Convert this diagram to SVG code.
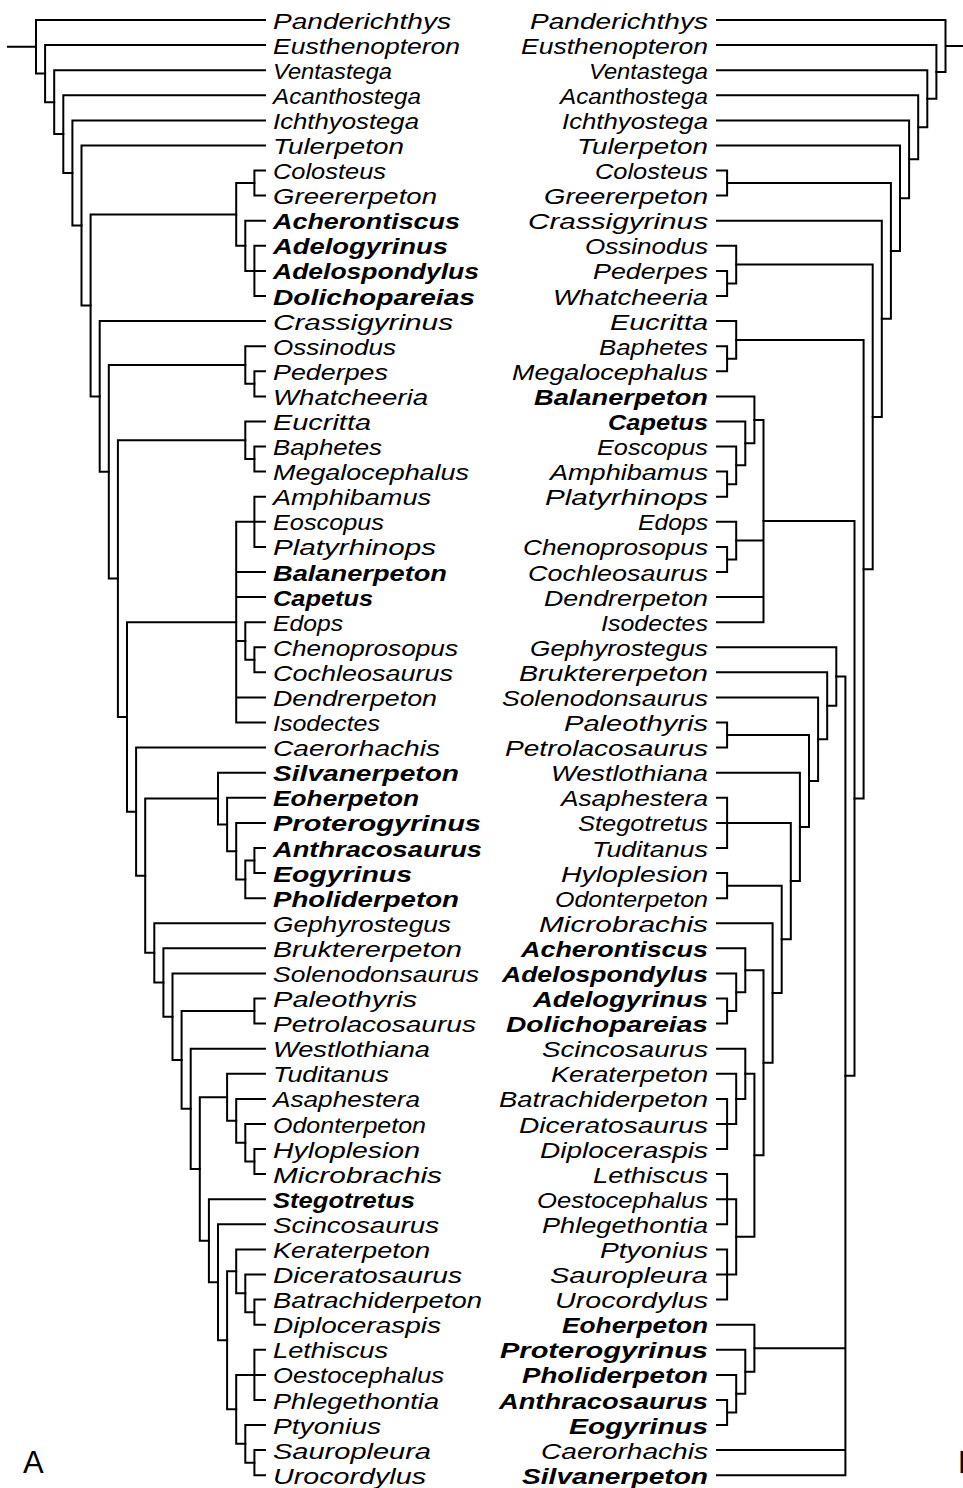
<svg xmlns="http://www.w3.org/2000/svg" width="963" height="1488" viewBox="0 0 963 1488">
<style>
.e{fill:none;stroke:#000;stroke-width:2;stroke-linecap:square}
text{font-family:"Liberation Sans",Arial,sans-serif;font-size:22px;font-style:italic;fill:#000}
.b{font-weight:bold}
.p{font-style:normal;font-size:31px}
</style>
<rect width="963" height="1488" fill="#fff"/>
<g id="connectors">
<g id="tree-a">
<path class="e" d="M8,46.8H36M36,20V73.6M36,20H265M36,73.6H45.1"/>
<path class="e" d="M45.1,45.1V102.15M45.1,45.1H265M45.1,102.15H54.2"/>
<path class="e" d="M54.2,70.2V134.1M54.2,70.2H265M54.2,134.1H63.3"/>
<path class="e" d="M63.3,95.3V172.9M63.3,95.3H265M63.3,172.9H72.4"/>
<path class="e" d="M72.4,120.4V225.45M72.4,120.4H265M72.4,225.45H81.5"/>
<path class="e" d="M81.5,145.5V305.4M81.5,145.5H265M81.5,305.4H90.6"/>
<path class="e" d="M90.6,214.4V396.45M90.6,214.4H236.2M90.6,396.45H99.7"/>
<path class="e" d="M236.2,183.05V245.8M236.2,183.05H254.4M236.2,245.8H245.3"/>
<path class="e" d="M254.4,170.5V195.6M254.4,170.5H265M254.4,195.6H265"/>
<path class="e" d="M245.3,220.7V270.9M245.3,220.7H265M245.3,270.9H265"/>
<path class="e" d="M254.4,245.8V296M254.4,245.8H265M254.4,296H265"/>
<path class="e" d="M99.7,321.1V471.8M99.7,321.1H265M99.7,471.8H108.8"/>
<path class="e" d="M108.8,365V578.55M108.8,365H245.3M108.8,578.55H117.9"/>
<path class="e" d="M245.3,346.2V383.85M245.3,346.2H265M245.3,383.85H254.4"/>
<path class="e" d="M254.4,371.3V396.4M254.4,371.3H265M254.4,396.4H265"/>
<path class="e" d="M117.9,440.2V716.9M117.9,440.2H245.3M117.9,716.9H127"/>
<path class="e" d="M245.3,421.4V459.05M245.3,421.4H265M245.3,459.05H254.4"/>
<path class="e" d="M254.4,446.5V471.6M254.4,446.5H265M254.4,471.6H265"/>
<path class="e" d="M127,622.15V811.65M127,622.15H236.2M127,811.65H136.1"/>
<path class="e" d="M236.2,521.8V722.5M236.2,521.8H265M236.2,572H265M236.2,597.1H265M236.2,641H245.3M236.2,697.4H265M236.2,722.5H265"/>
<path class="e" d="M254.4,496.7V546.9M254.4,496.7H265M254.4,546.9H265"/>
<path class="e" d="M245.3,622.2V659.8M245.3,622.2H265M245.3,659.8H254.4"/>
<path class="e" d="M254.4,647.3V672.3M254.4,647.3H265M254.4,672.3H265"/>
<path class="e" d="M136.1,747.6V875.7M136.1,747.6H265M136.1,875.7H145.2"/>
<path class="e" d="M145.2,798.6V952.85M145.2,798.6H218M145.2,952.85H154.3"/>
<path class="e" d="M218,772.7V824.5M218,772.7H265M218,824.5H227.1"/>
<path class="e" d="M227.1,797.8V851.15M227.1,797.8H265M227.1,851.15H236.2"/>
<path class="e" d="M236.2,822.9V879.4M236.2,822.9H265M236.2,879.4H245.3"/>
<path class="e" d="M245.3,860.55V898.2M245.3,860.55H254.4M245.3,898.2H265"/>
<path class="e" d="M254.4,848V873.1M254.4,848H265M254.4,873.1H265"/>
<path class="e" d="M154.3,923.2V982.5M154.3,923.2H265M154.3,982.5H163.4"/>
<path class="e" d="M163.4,948.3V1016.7M163.4,948.3H265M163.4,1016.7H172.5"/>
<path class="e" d="M172.5,973.4V1059.95M172.5,973.4H265M172.5,1059.95H181.6"/>
<path class="e" d="M181.6,1011.05V1108.85M181.6,1011.05H254.4M181.6,1108.85H190.7"/>
<path class="e" d="M254.4,998.5V1023.6M254.4,998.5H265M254.4,1023.6H265"/>
<path class="e" d="M190.7,1048.7V1169M190.7,1048.7H265M190.7,1169H199.8"/>
<path class="e" d="M199.8,1097.3V1240.75M199.8,1097.3H227.1M199.8,1240.75H208.9"/>
<path class="e" d="M227.1,1073.8V1120.85M227.1,1073.8H265M227.1,1120.85H236.2"/>
<path class="e" d="M236.2,1098.9V1142.8M236.2,1098.9H265M236.2,1142.8H245.3"/>
<path class="e" d="M245.3,1124V1161.6M245.3,1124H265M245.3,1161.6H254.4"/>
<path class="e" d="M254.4,1149.1V1174.1M254.4,1149.1H265M254.4,1174.1H265"/>
<path class="e" d="M208.9,1199.2V1282.3M208.9,1199.2H265M208.9,1282.3H218"/>
<path class="e" d="M218,1224.3V1340.35M218,1224.3H265M218,1340.35H227.1"/>
<path class="e" d="M227.1,1271.35V1409.35M227.1,1271.35H236.2M227.1,1409.35H236.2"/>
<path class="e" d="M236.2,1249.4V1293.3M236.2,1249.4H265M236.2,1293.3H245.3"/>
<path class="e" d="M245.3,1274.5V1312.15M245.3,1274.5H265M245.3,1312.15H254.4"/>
<path class="e" d="M254.4,1299.6V1324.7M254.4,1299.6H265M254.4,1324.7H265"/>
<path class="e" d="M236.2,1374.9V1443.8M236.2,1374.9H265M236.2,1443.8H245.3"/>
<path class="e" d="M254.4,1349.8V1400M254.4,1349.8H265M254.4,1400H265"/>
<path class="e" d="M245.3,1425V1462.65M245.3,1425H265M245.3,1462.65H254.4"/>
<path class="e" d="M254.4,1450.1V1475.2M254.4,1450.1H265M254.4,1475.2H265"/>
</g>
<g id="tree-b">
<path class="e" d="M963,45.95H945.5M945.5,20V71.9M945.5,20H717M945.5,71.9H936.4"/>
<path class="e" d="M936.4,45.1V98.75M936.4,45.1H717M936.4,98.75H927.3"/>
<path class="e" d="M927.3,70.2V127.3M927.3,70.2H717M927.3,127.3H918.2"/>
<path class="e" d="M918.2,95.3V159.3M918.2,95.3H717M918.2,159.3H909.1"/>
<path class="e" d="M909.1,120.4V198.2M909.1,120.4H717M909.1,198.2H900"/>
<path class="e" d="M900,145.5V250.9M900,145.5H717M900,250.9H890.9"/>
<path class="e" d="M890.9,183.05V318.8M890.9,183.05H727.1M890.9,318.8H881.8"/>
<path class="e" d="M727.1,170.5V195.6M727.1,170.5H717M727.1,195.6H717"/>
<path class="e" d="M881.8,220.7V416.9M881.8,220.7H717M881.8,416.9H872.7"/>
<path class="e" d="M872.7,264.6V569.2M872.7,264.6H736.2M872.7,569.2H863.6"/>
<path class="e" d="M736.2,245.8V283.45M736.2,245.8H717M736.2,283.45H727.1"/>
<path class="e" d="M727.1,270.9V296M727.1,270.9H717M727.1,296H717"/>
<path class="e" d="M863.6,339.9V798.45M863.6,339.9H736.2M863.6,798.45H854.5"/>
<path class="e" d="M736.2,321.1V358.75M736.2,321.1H717M736.2,358.75H727.1"/>
<path class="e" d="M727.1,346.2V371.3M727.1,346.2H717M727.1,371.3H717"/>
<path class="e" d="M854.5,521.05V1075.85M854.5,521.05H763.5M854.5,1075.85H845.4"/>
<path class="e" d="M763.5,419.9V622.2M763.5,419.9H754.4M763.5,540.6H736.2M763.5,597.1H717M763.5,622.2H717"/>
<path class="e" d="M754.4,396.4V443.35M754.4,396.4H717M754.4,443.35H745.3"/>
<path class="e" d="M745.3,421.4V465.3M745.3,421.4H717M745.3,465.3H736.2"/>
<path class="e" d="M736.2,446.5V484.15M736.2,446.5H717M736.2,484.15H727.1"/>
<path class="e" d="M727.1,471.6V496.7M727.1,471.6H717M727.1,496.7H717"/>
<path class="e" d="M736.2,521.8V559.45M736.2,521.8H717M736.2,559.45H727.1"/>
<path class="e" d="M727.1,546.9V572M727.1,546.9H717M727.1,572H717"/>
<path class="e" d="M845.4,676.5V1475.2M845.4,676.5H836.3M845.4,1348.2H754.4M845.4,1450.1H717M845.4,1475.2H717"/>
<path class="e" d="M836.3,647.3V705.75M836.3,647.3H717M836.3,705.75H827.2"/>
<path class="e" d="M827.2,672.3V739.2M827.2,672.3H717M827.2,739.2H818.1"/>
<path class="e" d="M818.1,697.4V781M818.1,697.4H717M818.1,781H809"/>
<path class="e" d="M809,735.05V826.9M809,735.05H727.1M809,826.9H799.9"/>
<path class="e" d="M727.1,722.5V747.6M727.1,722.5H717M727.1,747.6H717"/>
<path class="e" d="M799.9,772.7V881.1M799.9,772.7H717M799.9,881.1H790.8"/>
<path class="e" d="M790.8,822.9V939.3M790.8,822.9H717M790.8,939.3H781.7"/>
<path class="e" d="M727.1,797.8V848M727.1,797.8H717M727.1,848H717"/>
<path class="e" d="M781.7,885.65V993M781.7,885.65H727.1M781.7,993H772.6"/>
<path class="e" d="M727.1,873.1V898.2M727.1,873.1H717M727.1,898.2H717"/>
<path class="e" d="M772.6,923.2V1062.8M772.6,923.2H717M772.6,1062.8H763.5"/>
<path class="e" d="M763.5,970.25V1155.3M763.5,970.25H745.3M763.5,1155.3H754.4"/>
<path class="e" d="M745.3,948.3V992.2M745.3,948.3H717M745.3,992.2H736.2"/>
<path class="e" d="M736.2,973.4V1011.05M736.2,973.4H717M736.2,1011.05H727.1"/>
<path class="e" d="M727.1,998.5V1023.6M727.1,998.5H717M727.1,1023.6H717"/>
<path class="e" d="M754.4,1073.8V1236.85M754.4,1073.8H745.3M754.4,1236.85H736.2"/>
<path class="e" d="M745.3,1048.7V1098.9M745.3,1048.7H717M745.3,1098.9H736.2"/>
<path class="e" d="M736.2,1073.8V1124M736.2,1073.8H717M736.2,1124H717"/>
<path class="e" d="M727.1,1098.9V1149.1M727.1,1098.9H717M727.1,1149.1H717"/>
<path class="e" d="M736.2,1199.2V1274.5M736.2,1199.2H717M736.2,1274.5H717"/>
<path class="e" d="M727.1,1174.1V1224.3M727.1,1174.1H717M727.1,1224.3H717"/>
<path class="e" d="M727.1,1249.4V1299.6M727.1,1249.4H717M727.1,1299.6H717"/>
<path class="e" d="M754.4,1324.7V1371.75M754.4,1324.7H717M754.4,1371.75H745.3"/>
<path class="e" d="M745.3,1349.8V1393.7M745.3,1349.8H717M745.3,1393.7H736.2"/>
<path class="e" d="M736.2,1374.9V1412.5M736.2,1374.9H717M736.2,1412.5H727.1"/>
<path class="e" d="M727.1,1400V1425M727.1,1400H717M727.1,1425H717"/>
</g>
</g>
<g id="labels-a">
<g id="a00"><text x="273" y="28.5" textLength="178" lengthAdjust="spacingAndGlyphs">Panderichthys</text></g>
<g id="a01"><text x="273" y="53.6" textLength="187" lengthAdjust="spacingAndGlyphs">Eusthenopteron</text></g>
<g id="a02"><text x="273" y="78.7" textLength="119" lengthAdjust="spacingAndGlyphs">Ventastega</text></g>
<g id="a03"><text x="273" y="103.8" textLength="148" lengthAdjust="spacingAndGlyphs">Acanthostega</text></g>
<g id="a04"><text x="273" y="128.9" textLength="146" lengthAdjust="spacingAndGlyphs">Ichthyostega</text></g>
<g id="a05"><text x="273" y="154" textLength="131" lengthAdjust="spacingAndGlyphs">Tulerpeton</text></g>
<g id="a06"><text x="273" y="179" textLength="113" lengthAdjust="spacingAndGlyphs">Colosteus</text></g>
<g id="a07"><text x="273" y="204.1" textLength="164" lengthAdjust="spacingAndGlyphs">Greererpeton</text></g>
<g id="a08"><text class="b" x="273" y="229.2" textLength="187" lengthAdjust="spacingAndGlyphs">Acherontiscus</text></g>
<g id="a09"><text class="b" x="273" y="254.3" textLength="175" lengthAdjust="spacingAndGlyphs">Adelogyrinus</text></g>
<g id="a10"><text class="b" x="273" y="279.4" textLength="206" lengthAdjust="spacingAndGlyphs">Adelospondylus</text></g>
<g id="a11"><text class="b" x="273" y="304.5" textLength="202" lengthAdjust="spacingAndGlyphs">Dolichopareias</text></g>
<g id="a12"><text x="273" y="329.6" textLength="180" lengthAdjust="spacingAndGlyphs">Crassigyrinus</text></g>
<g id="a13"><text x="273" y="354.7" textLength="123" lengthAdjust="spacingAndGlyphs">Ossinodus</text></g>
<g id="a14"><text x="273" y="379.8" textLength="115" lengthAdjust="spacingAndGlyphs">Pederpes</text></g>
<g id="a15"><text x="273" y="404.9" textLength="155" lengthAdjust="spacingAndGlyphs">Whatcheeria</text></g>
<g id="a16"><text x="273" y="429.9" textLength="98" lengthAdjust="spacingAndGlyphs">Eucritta</text></g>
<g id="a17"><text x="273" y="455" textLength="109" lengthAdjust="spacingAndGlyphs">Baphetes</text></g>
<g id="a18"><text x="273" y="480.1" textLength="196" lengthAdjust="spacingAndGlyphs">Megalocephalus</text></g>
<g id="a19"><text x="273" y="505.2" textLength="158" lengthAdjust="spacingAndGlyphs">Amphibamus</text></g>
<g id="a20"><text x="273" y="530.3" textLength="111" lengthAdjust="spacingAndGlyphs">Eoscopus</text></g>
<g id="a21"><text x="273" y="555.4" textLength="163" lengthAdjust="spacingAndGlyphs">Platyrhinops</text></g>
<g id="a22"><text class="b" x="273" y="580.5" textLength="174" lengthAdjust="spacingAndGlyphs">Balanerpeton</text></g>
<g id="a23"><text class="b" x="273" y="605.6" textLength="100" lengthAdjust="spacingAndGlyphs">Capetus</text></g>
<g id="a24"><text x="273" y="630.7" textLength="70" lengthAdjust="spacingAndGlyphs">Edops</text></g>
<g id="a25"><text x="273" y="655.8" textLength="185" lengthAdjust="spacingAndGlyphs">Chenoprosopus</text></g>
<g id="a26"><text x="273" y="680.8" textLength="180" lengthAdjust="spacingAndGlyphs">Cochleosaurus</text></g>
<g id="a27"><text x="273" y="705.9" textLength="164" lengthAdjust="spacingAndGlyphs">Dendrerpeton</text></g>
<g id="a28"><text x="273" y="731" textLength="107" lengthAdjust="spacingAndGlyphs">Isodectes</text></g>
<g id="a29"><text x="273" y="756.1" textLength="167" lengthAdjust="spacingAndGlyphs">Caerorhachis</text></g>
<g id="a30"><text class="b" x="273" y="781.2" textLength="186" lengthAdjust="spacingAndGlyphs">Silvanerpeton</text></g>
<g id="a31"><text class="b" x="273" y="806.3" textLength="146" lengthAdjust="spacingAndGlyphs">Eoherpeton</text></g>
<g id="a32"><text class="b" x="273" y="831.4" textLength="208" lengthAdjust="spacingAndGlyphs">Proterogyrinus</text></g>
<g id="a33"><text class="b" x="273" y="856.5" textLength="209" lengthAdjust="spacingAndGlyphs">Anthracosaurus</text></g>
<g id="a34"><text class="b" x="273" y="881.6" textLength="139" lengthAdjust="spacingAndGlyphs">Eogyrinus</text></g>
<g id="a35"><text class="b" x="273" y="906.7" textLength="186" lengthAdjust="spacingAndGlyphs">Pholiderpeton</text></g>
<g id="a36"><text x="273" y="931.7" textLength="178" lengthAdjust="spacingAndGlyphs">Gephyrostegus</text></g>
<g id="a37"><text x="273" y="956.8" textLength="189" lengthAdjust="spacingAndGlyphs">Bruktererpeton</text></g>
<g id="a38"><text x="273" y="981.9" textLength="206" lengthAdjust="spacingAndGlyphs">Solenodonsaurus</text></g>
<g id="a39"><text x="273" y="1007" textLength="144" lengthAdjust="spacingAndGlyphs">Paleothyris</text></g>
<g id="a40"><text x="273" y="1032.1" textLength="203" lengthAdjust="spacingAndGlyphs">Petrolacosaurus</text></g>
<g id="a41"><text x="273" y="1057.2" textLength="157" lengthAdjust="spacingAndGlyphs">Westlothiana</text></g>
<g id="a42"><text x="273" y="1082.3" textLength="116" lengthAdjust="spacingAndGlyphs">Tuditanus</text></g>
<g id="a43"><text x="273" y="1107.4" textLength="147" lengthAdjust="spacingAndGlyphs">Asaphestera</text></g>
<g id="a44"><text x="273" y="1132.5" textLength="153" lengthAdjust="spacingAndGlyphs">Odonterpeton</text></g>
<g id="a45"><text x="273" y="1157.6" textLength="147" lengthAdjust="spacingAndGlyphs">Hyloplesion</text></g>
<g id="a46"><text x="273" y="1182.6" textLength="169" lengthAdjust="spacingAndGlyphs">Microbrachis</text></g>
<g id="a47"><text class="b" x="273" y="1207.7" textLength="142" lengthAdjust="spacingAndGlyphs">Stegotretus</text></g>
<g id="a48"><text x="273" y="1232.8" textLength="166" lengthAdjust="spacingAndGlyphs">Scincosaurus</text></g>
<g id="a49"><text x="273" y="1257.9" textLength="157" lengthAdjust="spacingAndGlyphs">Keraterpeton</text></g>
<g id="a50"><text x="273" y="1283" textLength="189" lengthAdjust="spacingAndGlyphs">Diceratosaurus</text></g>
<g id="a51"><text x="273" y="1308.1" textLength="209" lengthAdjust="spacingAndGlyphs">Batrachiderpeton</text></g>
<g id="a52"><text x="273" y="1333.2" textLength="168" lengthAdjust="spacingAndGlyphs">Diploceraspis</text></g>
<g id="a53"><text x="273" y="1358.3" textLength="115" lengthAdjust="spacingAndGlyphs">Lethiscus</text></g>
<g id="a54"><text x="273" y="1383.4" textLength="171" lengthAdjust="spacingAndGlyphs">Oestocephalus</text></g>
<g id="a55"><text x="273" y="1408.5" textLength="166" lengthAdjust="spacingAndGlyphs">Phlegethontia</text></g>
<g id="a56"><text x="273" y="1433.5" textLength="108" lengthAdjust="spacingAndGlyphs">Ptyonius</text></g>
<g id="a57"><text x="273" y="1458.6" textLength="158" lengthAdjust="spacingAndGlyphs">Sauropleura</text></g>
<g id="a58"><text x="273" y="1483.7" textLength="153" lengthAdjust="spacingAndGlyphs">Urocordylus</text></g>
</g>
<g id="labels-b">
<g id="b00"><text x="530" y="28.5" textLength="178" lengthAdjust="spacingAndGlyphs">Panderichthys</text></g>
<g id="b01"><text x="521" y="53.6" textLength="187" lengthAdjust="spacingAndGlyphs">Eusthenopteron</text></g>
<g id="b02"><text x="589" y="78.7" textLength="119" lengthAdjust="spacingAndGlyphs">Ventastega</text></g>
<g id="b03"><text x="560" y="103.8" textLength="148" lengthAdjust="spacingAndGlyphs">Acanthostega</text></g>
<g id="b04"><text x="562" y="128.9" textLength="146" lengthAdjust="spacingAndGlyphs">Ichthyostega</text></g>
<g id="b05"><text x="577" y="154" textLength="131" lengthAdjust="spacingAndGlyphs">Tulerpeton</text></g>
<g id="b06"><text x="595" y="179" textLength="113" lengthAdjust="spacingAndGlyphs">Colosteus</text></g>
<g id="b07"><text x="544" y="204.1" textLength="164" lengthAdjust="spacingAndGlyphs">Greererpeton</text></g>
<g id="b08"><text x="528" y="229.2" textLength="180" lengthAdjust="spacingAndGlyphs">Crassigyrinus</text></g>
<g id="b09"><text x="585" y="254.3" textLength="123" lengthAdjust="spacingAndGlyphs">Ossinodus</text></g>
<g id="b10"><text x="593" y="279.4" textLength="115" lengthAdjust="spacingAndGlyphs">Pederpes</text></g>
<g id="b11"><text x="553" y="304.5" textLength="155" lengthAdjust="spacingAndGlyphs">Whatcheeria</text></g>
<g id="b12"><text x="610" y="329.6" textLength="98" lengthAdjust="spacingAndGlyphs">Eucritta</text></g>
<g id="b13"><text x="599" y="354.7" textLength="109" lengthAdjust="spacingAndGlyphs">Baphetes</text></g>
<g id="b14"><text x="512" y="379.8" textLength="196" lengthAdjust="spacingAndGlyphs">Megalocephalus</text></g>
<g id="b15"><text class="b" x="534" y="404.9" textLength="174" lengthAdjust="spacingAndGlyphs">Balanerpeton</text></g>
<g id="b16"><text class="b" x="608" y="429.9" textLength="100" lengthAdjust="spacingAndGlyphs">Capetus</text></g>
<g id="b17"><text x="597" y="455" textLength="111" lengthAdjust="spacingAndGlyphs">Eoscopus</text></g>
<g id="b18"><text x="550" y="480.1" textLength="158" lengthAdjust="spacingAndGlyphs">Amphibamus</text></g>
<g id="b19"><text x="545" y="505.2" textLength="163" lengthAdjust="spacingAndGlyphs">Platyrhinops</text></g>
<g id="b20"><text x="638" y="530.3" textLength="70" lengthAdjust="spacingAndGlyphs">Edops</text></g>
<g id="b21"><text x="523" y="555.4" textLength="185" lengthAdjust="spacingAndGlyphs">Chenoprosopus</text></g>
<g id="b22"><text x="528" y="580.5" textLength="180" lengthAdjust="spacingAndGlyphs">Cochleosaurus</text></g>
<g id="b23"><text x="544" y="605.6" textLength="164" lengthAdjust="spacingAndGlyphs">Dendrerpeton</text></g>
<g id="b24"><text x="601" y="630.7" textLength="107" lengthAdjust="spacingAndGlyphs">Isodectes</text></g>
<g id="b25"><text x="530" y="655.8" textLength="178" lengthAdjust="spacingAndGlyphs">Gephyrostegus</text></g>
<g id="b26"><text x="519" y="680.8" textLength="189" lengthAdjust="spacingAndGlyphs">Bruktererpeton</text></g>
<g id="b27"><text x="502" y="705.9" textLength="206" lengthAdjust="spacingAndGlyphs">Solenodonsaurus</text></g>
<g id="b28"><text x="564" y="731" textLength="144" lengthAdjust="spacingAndGlyphs">Paleothyris</text></g>
<g id="b29"><text x="505" y="756.1" textLength="203" lengthAdjust="spacingAndGlyphs">Petrolacosaurus</text></g>
<g id="b30"><text x="551" y="781.2" textLength="157" lengthAdjust="spacingAndGlyphs">Westlothiana</text></g>
<g id="b31"><text x="561" y="806.3" textLength="147" lengthAdjust="spacingAndGlyphs">Asaphestera</text></g>
<g id="b32"><text x="578" y="831.4" textLength="130" lengthAdjust="spacingAndGlyphs">Stegotretus</text></g>
<g id="b33"><text x="592" y="856.5" textLength="116" lengthAdjust="spacingAndGlyphs">Tuditanus</text></g>
<g id="b34"><text x="561" y="881.6" textLength="147" lengthAdjust="spacingAndGlyphs">Hyloplesion</text></g>
<g id="b35"><text x="555" y="906.7" textLength="153" lengthAdjust="spacingAndGlyphs">Odonterpeton</text></g>
<g id="b36"><text x="539" y="931.7" textLength="169" lengthAdjust="spacingAndGlyphs">Microbrachis</text></g>
<g id="b37"><text class="b" x="521" y="956.8" textLength="187" lengthAdjust="spacingAndGlyphs">Acherontiscus</text></g>
<g id="b38"><text class="b" x="502" y="981.9" textLength="206" lengthAdjust="spacingAndGlyphs">Adelospondylus</text></g>
<g id="b39"><text class="b" x="533" y="1007" textLength="175" lengthAdjust="spacingAndGlyphs">Adelogyrinus</text></g>
<g id="b40"><text class="b" x="506" y="1032.1" textLength="202" lengthAdjust="spacingAndGlyphs">Dolichopareias</text></g>
<g id="b41"><text x="542" y="1057.2" textLength="166" lengthAdjust="spacingAndGlyphs">Scincosaurus</text></g>
<g id="b42"><text x="551" y="1082.3" textLength="157" lengthAdjust="spacingAndGlyphs">Keraterpeton</text></g>
<g id="b43"><text x="499" y="1107.4" textLength="209" lengthAdjust="spacingAndGlyphs">Batrachiderpeton</text></g>
<g id="b44"><text x="519" y="1132.5" textLength="189" lengthAdjust="spacingAndGlyphs">Diceratosaurus</text></g>
<g id="b45"><text x="540" y="1157.6" textLength="168" lengthAdjust="spacingAndGlyphs">Diploceraspis</text></g>
<g id="b46"><text x="593" y="1182.6" textLength="115" lengthAdjust="spacingAndGlyphs">Lethiscus</text></g>
<g id="b47"><text x="537" y="1207.7" textLength="171" lengthAdjust="spacingAndGlyphs">Oestocephalus</text></g>
<g id="b48"><text x="542" y="1232.8" textLength="166" lengthAdjust="spacingAndGlyphs">Phlegethontia</text></g>
<g id="b49"><text x="600" y="1257.9" textLength="108" lengthAdjust="spacingAndGlyphs">Ptyonius</text></g>
<g id="b50"><text x="550" y="1283" textLength="158" lengthAdjust="spacingAndGlyphs">Sauropleura</text></g>
<g id="b51"><text x="555" y="1308.1" textLength="153" lengthAdjust="spacingAndGlyphs">Urocordylus</text></g>
<g id="b52"><text class="b" x="562" y="1333.2" textLength="146" lengthAdjust="spacingAndGlyphs">Eoherpeton</text></g>
<g id="b53"><text class="b" x="500" y="1358.3" textLength="208" lengthAdjust="spacingAndGlyphs">Proterogyrinus</text></g>
<g id="b54"><text class="b" x="522" y="1383.4" textLength="186" lengthAdjust="spacingAndGlyphs">Pholiderpeton</text></g>
<g id="b55"><text class="b" x="499" y="1408.5" textLength="209" lengthAdjust="spacingAndGlyphs">Anthracosaurus</text></g>
<g id="b56"><text class="b" x="569" y="1433.5" textLength="139" lengthAdjust="spacingAndGlyphs">Eogyrinus</text></g>
<g id="b57"><text x="541" y="1458.6" textLength="167" lengthAdjust="spacingAndGlyphs">Caerorhachis</text></g>
<g id="b58"><text class="b" x="522" y="1483.7" textLength="186" lengthAdjust="spacingAndGlyphs">Silvanerpeton</text></g>
</g>
<g id="panel-letters">
<text class="p" x="23" y="1473">A</text>
<text class="p" x="958" y="1473">B</text>
</g>
</svg>
